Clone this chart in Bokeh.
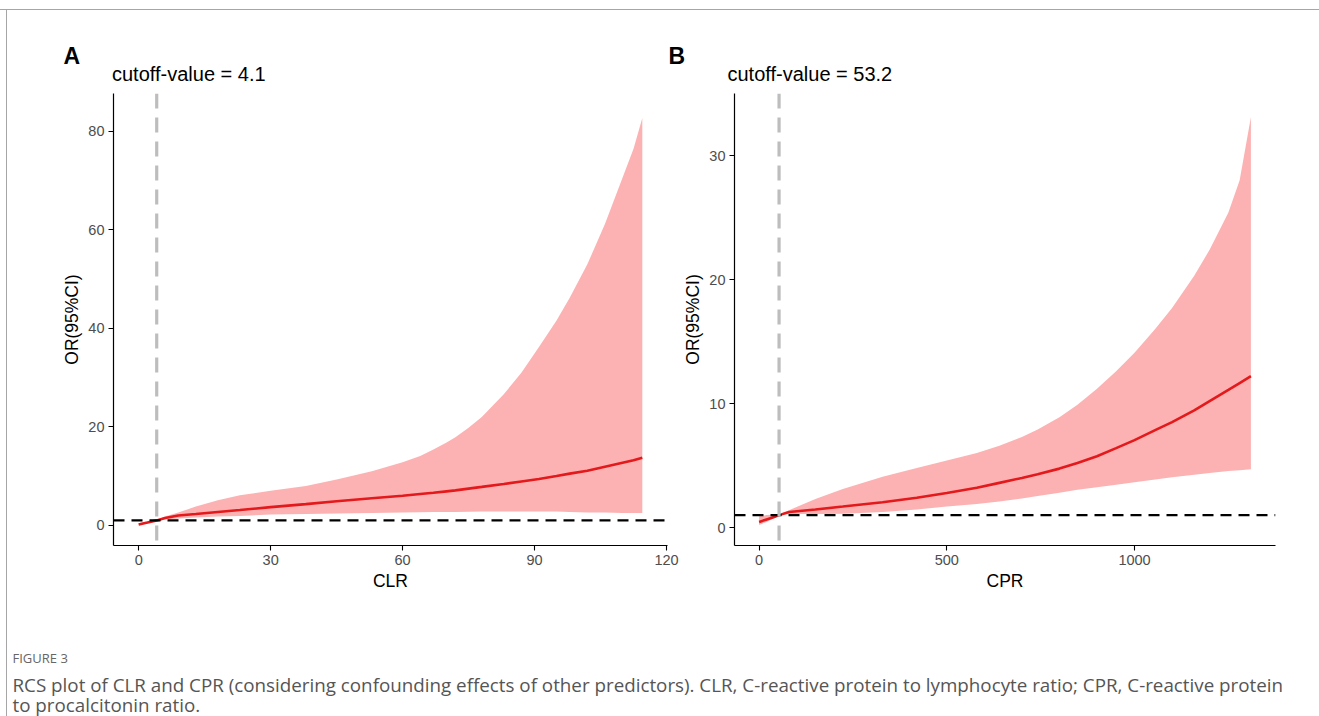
from bokeh.plotting import figure
from bokeh.models import Label, Span, Range1d, FixedTicker, Div, Spacer
from bokeh.layouts import column, row
from bokeh.embed import file_html
from bokeh.resources import INLINE

# ---------------- data ----------------
# Panel A: CLR
clr_x = [0, 2, 4.1, 6, 9, 13, 18, 23, 30, 38, 45, 53, 60, 64, 67, 70, 72, 75, 78, 83, 87, 91, 95, 98, 102, 106, 110, 112.5, 114.5]
clr_or = [0.15, 0.55, 1.0, 1.5, 2.0, 2.3, 2.7, 3.1, 3.7, 4.3, 4.9, 5.5, 6.0, 6.35, 6.6, 6.9, 7.1, 7.45, 7.8, 8.4, 8.9, 9.4, 10.0, 10.5, 11.1, 11.9, 12.7, 13.2, 13.7]
clr_upper = [0.4, 0.75, 1.1, 1.8, 2.6, 3.8, 5.1, 6.1, 7.0, 8.0, 9.3, 11.0, 12.8, 14.1, 15.4, 16.8, 17.9, 19.8, 22.0, 26.6, 31.0, 36.2, 41.6, 46.2, 53.0, 61.2, 70.6, 76.5, 82.7]
clr_lower = [0.0, 0.35, 0.9, 1.2, 1.4, 1.6, 1.8, 1.9, 2.2, 2.3, 2.4, 2.5, 2.6, 2.65, 2.7, 2.7, 2.7, 2.75, 2.8, 2.8, 2.8, 2.8, 2.8, 2.7, 2.6, 2.6, 2.5, 2.5, 2.5]
clr_cutoff = 4.1

# Panel B: CPR
cpr_x = [0, 20, 40, 53.2, 80, 150, 223, 329, 420, 500, 580, 640, 700, 742, 800, 848, 900, 951, 1000, 1055, 1100, 1159, 1200, 1250, 1280, 1310]
cpr_or = [0.45, 0.65, 0.85, 1.0, 1.25, 1.45, 1.69, 2.04, 2.4, 2.78, 3.2, 3.6, 4.0, 4.3, 4.75, 5.2, 5.75, 6.4, 7.05, 7.85, 8.5, 9.45, 10.2, 11.1, 11.65, 12.2]
cpr_upper = [0.9, 1.0, 1.02, 1.05, 1.4, 2.3, 3.1, 4.1, 4.8, 5.4, 6.0, 6.6, 7.3, 7.9, 8.9, 9.9, 11.2, 12.6, 14.1, 16.0, 17.7, 20.3, 22.4, 25.4, 28.0, 33.1]
cpr_lower = [0.2, 0.45, 0.75, 0.95, 1.1, 1.1, 1.12, 1.25, 1.45, 1.69, 1.9, 2.1, 2.35, 2.55, 2.8, 3.05, 3.25, 3.45, 3.65, 3.87, 4.05, 4.25, 4.4, 4.55, 4.62, 4.7]
cpr_cutoff = 53.2

clr_xticks = [0, 30, 60, 90, 120]
clr_yticks = [0, 20, 40, 60, 80]
cpr_xticks = [0, 500, 1000]
cpr_yticks = [0, 10, 20, 30]

title_a = "cutoff-value = 4.1"
title_b = "cutoff-value = 53.2"
caption_head = "FIGURE 3"
caption_line1 = "RCS plot of CLR and CPR (considering confounding effects of other predictors). CLR, C-reactive protein to lymphocyte ratio; CPR, C-reactive protein"
caption_line2 = "to procalcitonin ratio."

FONT = "Liberation Sans"
RIBBON = "#fcb2b2"
LINE = "#e3191c"


def blank(width, height):
    f = figure(width=width, height=height, output_backend="svg", toolbar_location=None,
               x_range=Range1d(0, 1), y_range=Range1d(0, 1),
               min_border_left=0, min_border_right=0, min_border_top=0, min_border_bottom=0)
    f.axis.visible = False
    f.grid.visible = False
    f.outline_line_color = None
    f.background_fill_color = "white"
    f.border_fill_color = "white"
    return f


def panel(xs, ys, lo, hi, cutoff, xr, yr, xt, yt, xlabel,
          width, height, mbl, mbr, mbt, mbb):
    p = figure(width=width, height=height, output_backend="svg", toolbar_location=None,
               x_range=Range1d(*xr), y_range=Range1d(*yr),
               min_border_left=mbl, min_border_right=mbr,
               min_border_top=mbt, min_border_bottom=mbb)
    p.outline_line_color = None
    p.xgrid.visible = False
    p.ygrid.visible = False
    p.background_fill_color = "white"
    p.border_fill_color = "white"

    p.varea(x=xs, y1=lo, y2=hi, fill_color=RIBBON, fill_alpha=1.0)
    p.line(x=xs, y=ys, line_color=LINE, line_width=2.6)

    p.add_layout(Span(location=1, dimension="width", line_color="black",
                      line_width=2.2, line_dash="11 7"))
    p.add_layout(Span(location=cutoff, dimension="height", line_color="#bdbdbd",
                      line_width=3.2, line_dash="15 9"))

    for ax, ticks in ((p.xaxis, xt), (p.yaxis, yt)):
        ax.ticker = FixedTicker(ticks=ticks)
        ax.minor_tick_line_color = None
        ax.major_tick_out = 5
        ax.major_tick_in = 0
        ax.major_tick_line_color = "black"
        ax.major_tick_line_width = 1.1
        ax.axis_line_color = "black"
        ax.axis_line_width = 1.2
        ax.major_label_text_font = FONT
        ax.major_label_text_font_size = "14.5px"
        ax.major_label_text_color = "#4d4d4d"
        ax.major_label_standoff = 4
        ax.axis_label_text_font = FONT
        ax.axis_label_text_font_size = "17.5px"
        ax.axis_label_text_font_style = "normal"
        ax.axis_label_text_color = "black"
        ax.axis_label_standoff = 3
    p.xaxis.axis_label = xlabel
    p.yaxis.axis_label = "OR(95%CI)"
    return p


# header with panel letters and titles (content origin is page (7, 10))
header = blank(1312, 75)
for txt, x, y, size, style in (("A", 56, 30, "23px", "bold"),
                               (title_a, 104.5, 12, "20px", "normal"),
                               ("B", 661, 30, "23px", "bold"),
                               (title_b, 720, 12, "20px", "normal")):
    header.add_layout(Label(x=x, y=y, x_units="screen", y_units="screen", text=txt,
                            text_font=FONT, text_font_size=size, text_font_style=style,
                            text_color="black", text_baseline="middle", text_align="left"))

pa = panel(clr_x, clr_or, clr_lower, clr_upper, clr_cutoff,
           (-5.725, 120.225), (-4.1, 87.7), clr_xticks, clr_yticks, "CLR",
           673, 523, 106, 13, 5, 61)
pb = panel(cpr_x, cpr_or, cpr_lower, cpr_upper, cpr_cutoff,
           (-65.5, 1375.5), (-1.45, 35.0), cpr_xticks, cpr_yticks, "CPR",
           639, 523, 49, 44, 8, 63)

cap = blank(1312, 108)
cap.add_layout(Label(x=5, y=59, x_units="screen", y_units="screen", text=caption_head,
                     text_font="Open Sans", text_font_size="13px",
                     text_color="#666666", text_baseline="middle"))
cap.add_layout(Label(x=5, y=32, x_units="screen", y_units="screen", text=caption_line1,
                     text_font="Open Sans", text_font_size="18.8px",
                     text_color="#555555", text_baseline="middle"))
cap.add_layout(Label(x=5, y=12, x_units="screen", y_units="screen", text=caption_line2,
                     text_font="Open Sans", text_font_size="18.8px",
                     text_color="#555555", text_baseline="middle"))

line_style = {"background-color": "#a6a6a6"}
layout = column(
    Spacer(width=1319, height=9, margin=0),
    Div(text="", width=1319, height=1, styles=line_style, margin=0),
    row(
        Spacer(width=6, height=706, margin=0),
        Div(text="", width=1, height=706, styles=line_style, margin=0),
        column(header, row(pa, pb), cap),
    ),
)

open("out.html", "w").write(file_html(layout, INLINE))
